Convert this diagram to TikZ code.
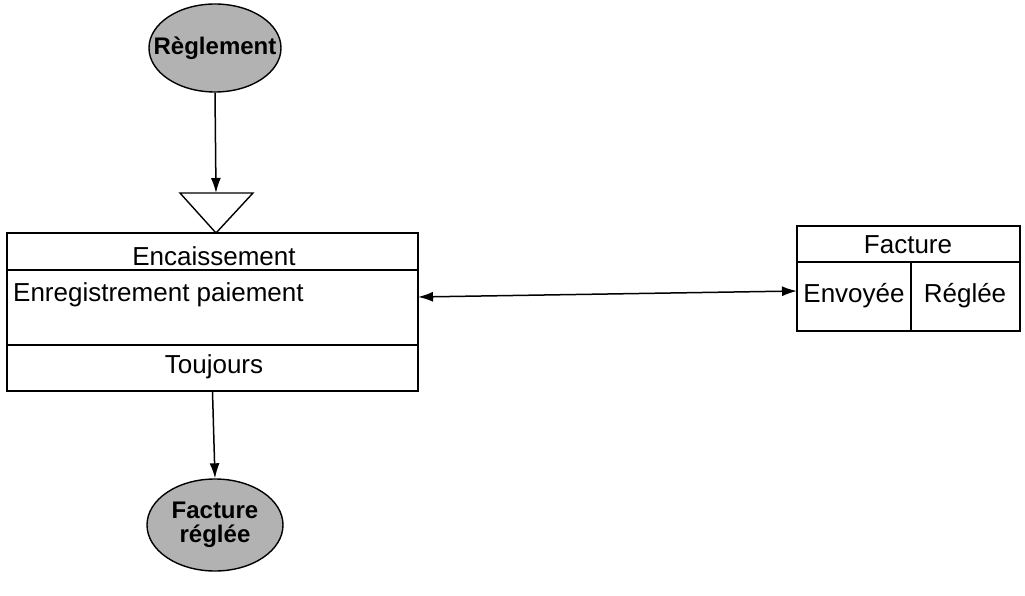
\documentclass[tikz,border=0pt]{standalone}
\usepackage{fontspec}
\setmainfont{Liberation Sans}
\usetikzlibrary{shapes.geometric,arrows.meta}
\begin{document}
\begin{tikzpicture}[x=1pt,y=-1pt,
  txt/.style={font=\fontsize{26}{30}\selectfont, inner sep=0pt},
  evt/.style={ellipse, draw, line width=1.4pt, fill=gray!60, inner sep=0pt},
  evtxt/.style={font=\fontsize{24}{27}\selectfont\bfseries, align=center, inner sep=0pt},
  box/.style={draw, line width=1.5pt, inner sep=0pt},
  arr/.style={line width=1.5pt, -{Latex[length=15pt,width=10pt]}},
  darr/.style={line width=1.5pt, {Latex[length=15pt,width=10pt]}-{Latex[length=15pt,width=10pt]}}]
\useasboundingbox (0,0) rectangle (1025,596);
% event ellipses
\node[evt, minimum width=132pt, minimum height=88pt] (regl) at (215,48) {};
\node[evtxt] (reglT) at (regl.center) {Règlement};
\node[evt, minimum width=136pt, minimum height=92pt] (fr) at (215,525) {};
\node[evtxt] (frT) at (fr.center) {Facture\\[-3pt]réglée};
% triangle
\coordinate (tl) at (180,193);
\coordinate (tr) at (253,193);
\coordinate (tb) at (216,233);
\coordinate (ttop) at (216,193);
\draw[line width=1.4pt] (tl) -- (tr) -- (tb) -- cycle;
% main operation box
\node[box, minimum width=411pt, minimum height=158pt] (enc) at (212.5,312) {};
\draw[line width=1.4pt] (7,270) -- (418,270);
\draw[line width=1.4pt] (7,345) -- (418,345);
\node[txt] (encT) at (214,256) {Encaissement};
\node[txt, anchor=west] (encA) at (13,295) {Enregistrement paiement};
\node[txt] (encC) at (214,367) {Toujours};
% Facture box
\node[box, minimum width=223pt, minimum height=105pt] (fac) at (908.5,278.5) {};
\draw[line width=1.4pt] (797,262) -- (1020,262);
\draw[line width=1.4pt] (911,262) -- (911,331);
\node[txt] (facT) at (908,245) {Facture};
\node[txt] (facE) at (854,296) {Envoyée};
\node[txt] (facR) at (965,296) {Réglée};
% connectors
\draw[arr] (regl.south) -- (ttop);
\draw[arr] (enc.south) -- (fr.north);
\coordinate (d1) at (418,297);
\coordinate (d2) at (797,291);
\draw[darr] (d1) -- (d2);
\end{tikzpicture}
\end{document}
